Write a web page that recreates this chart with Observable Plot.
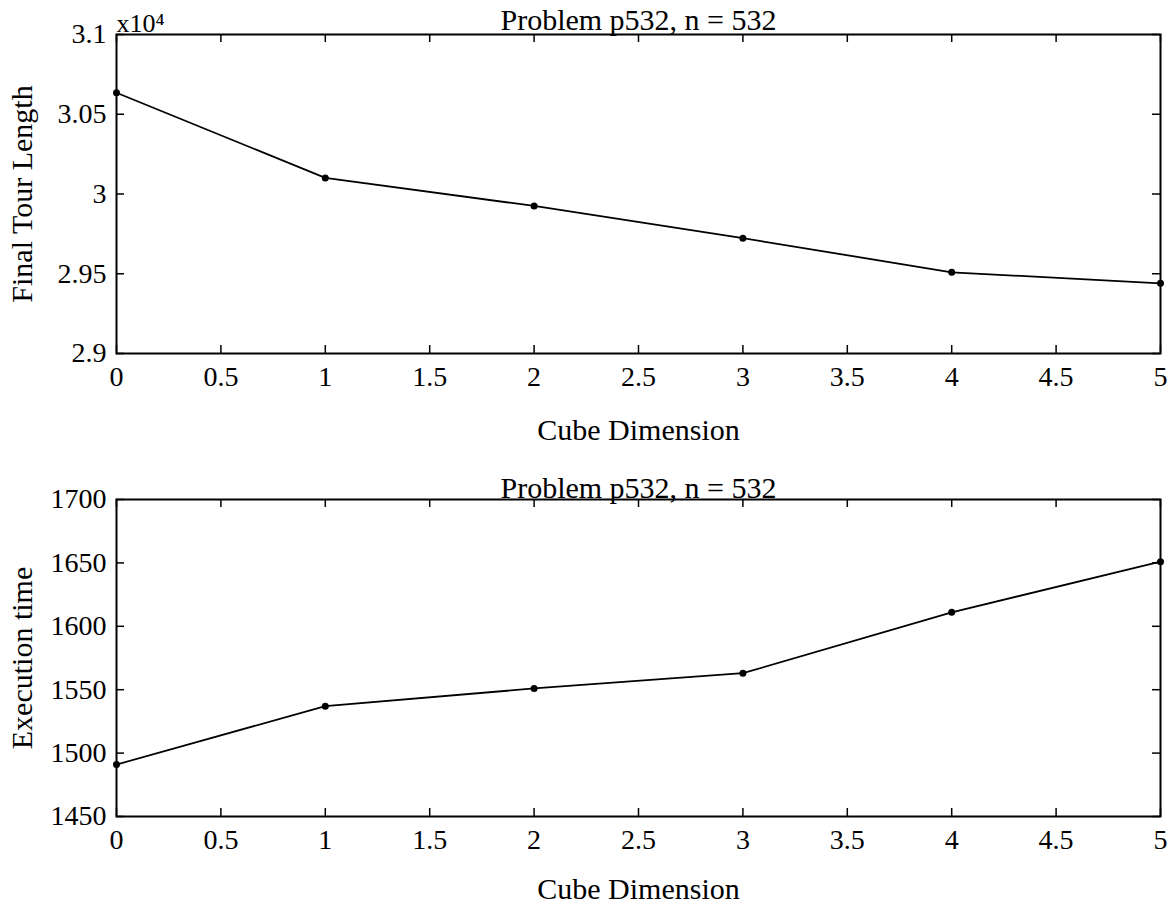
<!DOCTYPE html>
<html>
<head>
<meta charset="utf-8">
<script src="https://cdn.jsdelivr.net/npm/d3@7"></script>
<script src="https://cdn.jsdelivr.net/npm/@observablehq/plot@0.6"></script>
<style>
  html, body { margin: 0; padding: 0; background: #fff; }
  #wrap { position: relative; width: 1176px; height: 905px; overflow: hidden; }
  #top, #bottom { position: absolute; left: 0; }
  #top { top: 0; }
  #bottom { top: 450px; }
  svg { font-family: "Liberation Serif", "Times New Roman", serif; overflow: visible; }
</style>
</head>
<body>
<div id="wrap"><div id="top"></div><div id="bottom"></div></div>
<script>
// ---- data ----
const cubeDimension = [0, 1, 2, 3, 4, 5];
const finalTourLength = [30635, 30101, 29925, 29723, 29509, 29440];
const executionTime = [1491, 1537, 1551, 1563, 1611, 1651];

const xTicks = [0, 0.5, 1, 1.5, 2, 2.5, 3, 3.5, 4, 4.5, 5];
const yTicksTour = [29000, 29500, 30000, 30500, 31000];
const yTicksTime = [1450, 1500, 1550, 1600, 1650, 1700];

const titleText = "Problem p532, n = 532";
const xLabel = "Cube Dimension";
const yLabelTop = "Final Tour Length";
const yLabelBottom = "Execution time";
const exponentText = "x10\u2074";

const tourData = cubeDimension.map((x, i) => ({x, y: finalTourLength[i]}));
const timeData = cubeDimension.map((x, i) => ({x, y: executionTime[i]}));

const TICK_FONT = 28;
const LABEL_FONT = 30;
const TICK_LEN = 8;
const WIDTH = 1176, ML = 116, MR = 16;

function panel({data, yDomain, yTicks, yFormat, yLabel, height, marginTop, marginBottom, titleDy, labelOffsetX, extra = []}) {
  const plotH = height - marginTop - marginBottom;
  const plotW = WIDTH - ML - MR;
  return Plot.plot({
    width: WIDTH,
    height,
    marginLeft: ML,
    marginRight: MR,
    marginTop,
    marginBottom,
    style: {fontFamily: '"Liberation Serif", "Times New Roman", serif', color: "#000", background: "#fff", overflow: "visible"},
    x: {domain: [0, 5]},
    y: {domain: yDomain},
    marks: [
      // inward ticks on all four sides
      Plot.tickX(xTicks, {x: d => d, insetTop: plotH - TICK_LEN, stroke: "#000", strokeWidth: 1.5}),
      Plot.tickX(xTicks, {x: d => d, insetBottom: plotH - TICK_LEN, stroke: "#000", strokeWidth: 1.5}),
      Plot.tickY(yTicks, {y: d => d, insetRight: plotW - TICK_LEN, stroke: "#000", strokeWidth: 1.5}),
      Plot.tickY(yTicks, {y: d => d, insetLeft: plotW - TICK_LEN, stroke: "#000", strokeWidth: 1.5}),
      Plot.frame({stroke: "#000", strokeWidth: 2}),
      // tick labels + axis labels
      Plot.axisX(xTicks, {anchor: "bottom", tickSize: 0, tickPadding: 13, fontSize: TICK_FONT,
        tickFormat: d => String(d),
        label: xLabel, labelAnchor: "center", labelArrow: "none", labelOffset: labelOffsetX}),
      Plot.axisY(yTicks, {anchor: "left", tickSize: 0, tickPadding: 10, fontSize: TICK_FONT, tickFormat: yFormat,
        label: yLabel, labelAnchor: "center", labelArrow: "none", labelOffset: 106}),
      Plot.lineY(data, {x: "x", y: "y", stroke: "#000", strokeWidth: 1.8}),
      Plot.dot(data, {x: "x", y: "y", r: 3.5, fill: "#000"}),
      Plot.text([titleText], {frameAnchor: "top", lineAnchor: "bottom", dy: titleDy, fontSize: LABEL_FONT}),
      ...extra
    ]
  });
}

function styleLabels(svg) {
  svg.querySelectorAll('[aria-label="x-axis label"], [aria-label="y-axis label"]').forEach(g => {
    g.setAttribute("font-size", LABEL_FONT);
  });
  return svg;
}

const topPlot = panel({
  data: tourData,
  yDomain: [29000, 31000],
  yTicks: yTicksTour,
  yFormat: d => String(d / 1e4),
  yLabel: yLabelTop,
  height: 450,
  marginTop: 34,
  marginBottom: 97,
  titleDy: -5,
  labelOffsetX: 86,
  extra: [Plot.text([exponentText], {frameAnchor: "top-left", textAnchor: "start", lineAnchor: "bottom", dy: -3, fontSize: 26})]
});
document.getElementById("top").appendChild(styleLabels(topPlot));

const bottomPlot = panel({
  data: timeData,
  yDomain: [1450, 1700],
  yTicks: yTicksTime,
  yFormat: d => String(d),
  yLabel: yLabelBottom,
  height: 455,
  marginTop: 49,
  marginBottom: 89,
  titleDy: -2,
  labelOffsetX: 82
});
document.getElementById("bottom").appendChild(styleLabels(bottomPlot));
</script>
</body>
</html>
